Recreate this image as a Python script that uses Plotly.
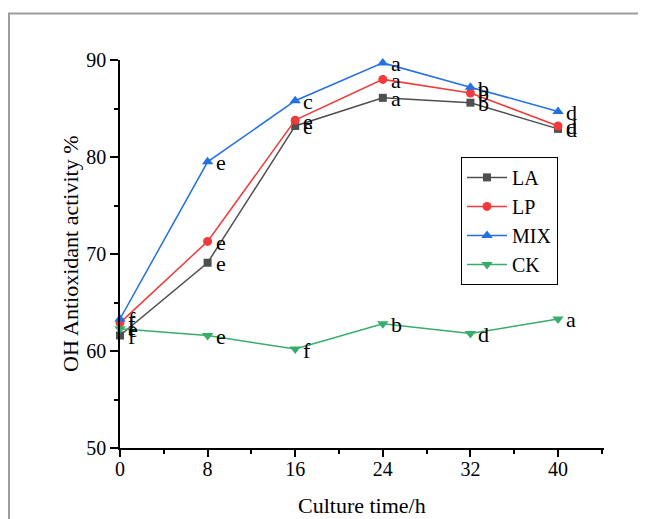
import plotly.graph_objects as go

hours = [0, 8, 16, 24, 32, 40]
la = [61.6, 69.1, 83.2, 86.1, 85.6, 82.9]
lp = [62.9, 71.3, 83.8, 88.0, 86.6, 83.2]
mix = [63.3, 79.5, 85.8, 89.7, 87.2, 84.7]
ck = [62.3, 61.6, 60.2, 62.8, 61.8, 63.3]

la_letters = ["f", "e", "e", "a", "b", "d"]
lp_letters = ["f", "e", "e", "a", "b", "d"]
mix_letters = ["f", "e", "c", "a", "b", "d"]
ck_letters = ["e", "e", "f", "b", "d", "a"]

x_ticks = [0, 8, 16, 24, 32, 40]
y_ticks = [50, 60, 70, 80, 90]

FONT = "Liberation Serif"
FS = 22
TICK_FS = 20

series = [
    ("LA", la, la_letters, "#4f4f4f", "square", 8),
    ("LP", lp, lp_letters, "#ef3b3b", "circle", 9),
    ("MIX", mix, mix_letters, "#2370e2", "triangle-up", 10),
    ("CK", ck, ck_letters, "#37ad6c", "triangle-down", 10),
]

fig = go.Figure()
for name, vals, letters, color, sym, size in series:
    fig.add_trace(go.Scatter(
        x=hours, y=vals, name=name, mode="lines+markers",
        line=dict(color=color, width=1.5),
        marker=dict(symbol=sym, size=size, color=color),
        cliponaxis=False,
    ))
    for h, v, t in zip(hours, vals, letters):
        fig.add_annotation(x=h, y=v, text=t, showarrow=False,
                           xanchor="left", yanchor="middle", xshift=6, yshift=-1,
                           font=dict(family=FONT, size=FS, color="black"))

# page body has an 8px margin: figure coordinates = reference pixels - 8
W, H = 638, 511
L, R, T, B = 112, 596, 52, 440.5

def px_x(p):
    return (p - L) / (R - L)

def px_y(p):
    return (B - p) / (B - T)

fig.add_shape(type="rect", xref="paper", yref="paper",
              x0=px_x(1), x1=px_x(700), y0=px_y(560), y1=px_y(5.5),
              line=dict(color="#9c9c9c", width=2), fillcolor="rgba(0,0,0,0)")

fig.add_annotation(xref="paper", yref="paper", x=px_x(62), y=0.5,
                   text="OH Antioxidant activity %", textangle=-90,
                   showarrow=False, font=dict(family=FONT, size=FS, color="black"),
                   xanchor="center", yanchor="middle")
fig.add_annotation(xref="paper", yref="paper", x=0.5, y=px_y(498),
                   text="Culture time/h", showarrow=False,
                   font=dict(family=FONT, size=FS, color="black"),
                   xanchor="center", yanchor="middle")

fig.update_layout(
    width=W, height=H,
    margin=dict(l=L, r=W - R, t=T, b=H - B, pad=0),
    paper_bgcolor="white", plot_bgcolor="white",
    font=dict(family=FONT, size=FS, color="black"),
    showlegend=True,
    legend=dict(x=px_x(453), y=px_y(149), xanchor="left", yanchor="top",
                bordercolor="black", borderwidth=1, bgcolor="white",
                font=dict(family=FONT, size=20, color="black"),
                itemwidth=40, tracegroupgap=0),
    xaxis=dict(range=[0, 44.2], tickvals=x_ticks, showgrid=False, zeroline=False,
               showline=True, linecolor="black", linewidth=1.5,
               ticks="outside", ticklen=7, tickwidth=1.5, tickcolor="black",
               ticklabelstandoff=-5,
               minor=dict(dtick=4, tick0=0, ticks="outside", ticklen=4, tickwidth=1.5, tickcolor="black"),
               tickfont=dict(family=FONT, size=TICK_FS, color="black")),
    yaxis=dict(range=[50, 90], tickvals=y_ticks, showgrid=False, zeroline=False,
               showline=True, linecolor="black", linewidth=1.5,
               ticks="outside", ticklen=8, tickwidth=1.5, tickcolor="black",
               minor=dict(dtick=5, tick0=50, ticks="outside", ticklen=4, tickwidth=1.5, tickcolor="black"),
               tickfont=dict(family=FONT, size=TICK_FS, color="black")),
)

fig.write_html("out.html")
